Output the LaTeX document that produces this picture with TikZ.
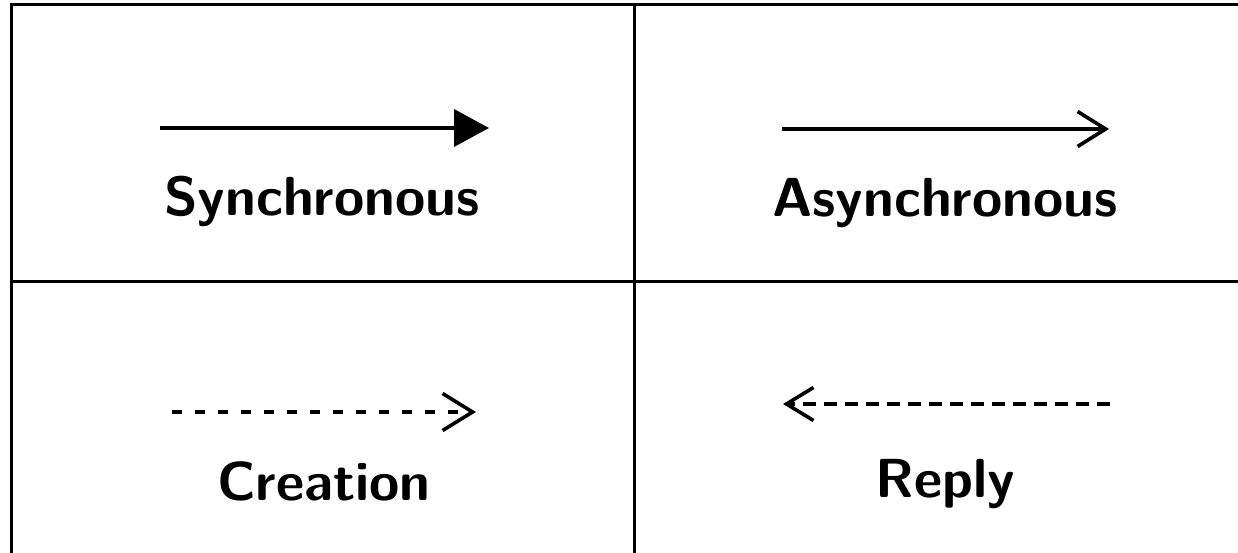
\documentclass[tikz,border=0pt]{standalone}
\usetikzlibrary{arrows.meta}
\begin{document}
\begin{tikzpicture}[x=1pt,y=-1pt,
  gridline/.style={line width=3pt,black},
  msgline/.style={line width=3.6pt,black},
  lbl/.style={anchor=base,inner sep=0pt,font=\sffamily\bfseries\fontsize{55}{66}\selectfont},
  syncarrow/.style={msgline,-{Triangle[length=35pt,width=37pt]}},
  asyncarrow/.style={msgline,-{Straight Barb[length=28pt,width=35pt,line width=3.6pt]}},
  creationarrow/.style={msgline,dash pattern=on 10pt off 13pt,-{Straight Barb[length=30pt,width=37pt,line width=3.6pt]}},
  replyarrow/.style={msgline,dash pattern=on 13pt off 8pt,-{Straight Barb[length=27pt,width=33pt,line width=3.6pt]}}]
\useasboundingbox (0,0) rectangle (1238,553);
% grid
\coordinate (tl) at (11,5);
\coordinate (tr) at (1238,5);
\coordinate (bl) at (11,553);
\coordinate (mt) at (634,5);
\coordinate (mb) at (634,553);
\coordinate (ml) at (11,281);
\coordinate (mr) at (1238,281);
\draw[gridline] (tr) -- (tl) -- (bl);
\draw[gridline] (mt) -- (mb);
\draw[gridline] (ml) -- (mr);
% arrows
\coordinate (s1) at (160,128);
\coordinate (s2) at (489,128);
\draw[syncarrow] (s1) -- (s2);
\coordinate (a1) at (782,129);
\coordinate (a2) at (1109,129);
\draw[asyncarrow] (a1) -- (a2);
\coordinate (c1) at (172,412);
\coordinate (c2) at (476,412);
\draw[creationarrow] (c1) -- (c2);
\coordinate (r1) at (1110,404);
\coordinate (r2) at (783,404);
\draw[replyarrow] (r1) -- (r2);
% labels
\node[lbl] (ls) at (322,216) {Synchronous};
\node[lbl] (la) at (945,217) {Asynchronous};
\node[lbl] (lc) at (324,500) {Creation};
\node[lbl] (lr) at (945,497) {Reply};
\end{tikzpicture}
\end{document}
